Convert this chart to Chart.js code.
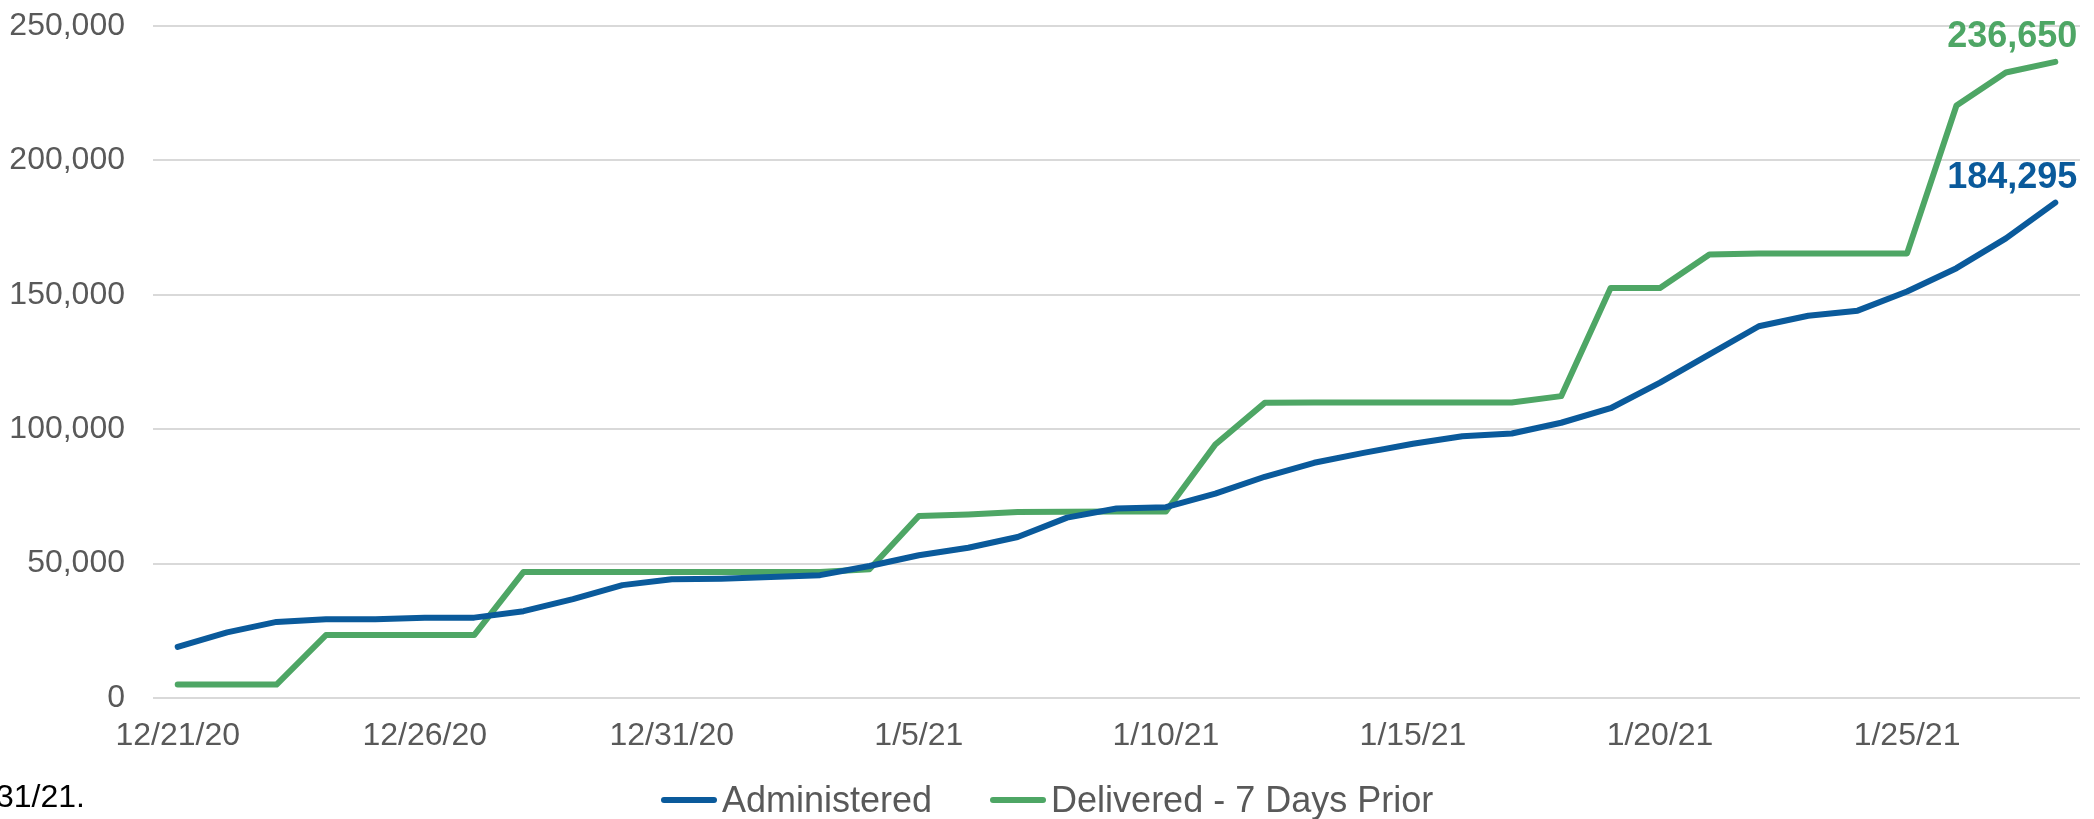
<!DOCTYPE html>
<html>
<head>
<meta charset="utf-8">
<script src="https://cdn.jsdelivr.net/npm/chart.js@4.4.1/dist/chart.umd.min.js"></script>
<style>
    html, body { margin: 0; padding: 0; background: #fff; overflow: hidden; }
    .wrap { position: relative; width: 2094px; height: 819px; overflow: hidden; font-family: "Liberation Sans", Arial, sans-serif; }
    .chart-box { position: absolute; left: 0; top: 0; width: 2094px; height: 819px; }
    .note { position: absolute; left: -4px; top: 780px; font-size: 32px; line-height: 32px; color: #000; }
    .legend { position: absolute; left: 661px; top: 782px; height: 36px; display: flex; align-items: center; font-size: 36px; line-height: 36px; color: #595959; white-space: nowrap; }
    .legend-item { display: flex; align-items: center; margin-right: 58px; }
    .legend-line { width: 56px; height: 6px; border-radius: 3px; margin-right: 5px; }
</style>
</head>
<body>
<div class="wrap">
    <div class="chart-box"><canvas id="chart"></canvas></div>
    <div class="legend" id="legend"></div>
    <div class="note">31/21.</div>
</div>
<script>
// Dates (one per day)
const dates = [
    '12/21/20', '12/22/20', '12/23/20', '12/24/20', '12/25/20', '12/26/20', '12/27/20', '12/28/20',
    '12/29/20', '12/30/20', '12/31/20', '1/1/21', '1/2/21', '1/3/21', '1/4/21', '1/5/21',
    '1/6/21', '1/7/21', '1/8/21', '1/9/21', '1/10/21', '1/11/21', '1/12/21', '1/13/21',
    '1/14/21', '1/15/21', '1/16/21', '1/17/21', '1/18/21', '1/19/21', '1/20/21', '1/21/21',
    '1/22/21', '1/23/21', '1/24/21', '1/25/21', '1/26/21', '1/27/21', '1/28/21'
];

const administered = [
    19000, 24400, 28300, 29300, 29300, 29900, 29900, 32300,
    36800, 42000, 44200, 44400, 45000, 45700, 49100, 53100,
    55900, 59900, 67100, 70500, 71000, 76000, 82300, 87500,
    91200, 94600, 97400, 98400, 102400, 107800, 117300, 127800,
    138300, 142200, 144100, 151200, 159900, 171000, 184295
];

const delivered = [
    5000, 5000, 5000, 23400, 23400, 23400, 23400, 46900,
    46900, 46900, 46900, 46900, 46900, 46900, 47900, 67700,
    68300, 69200, 69300, 69400, 69400, 94300, 109800, 109900,
    109900, 109900, 109900, 109900, 112300, 152500, 152500, 165000,
    165400, 165400, 165400, 165400, 220400, 232700, 236650
];

const yTicks = [0, 50000, 100000, 150000, 200000, 250000];

const BLUE = '#0A5A9B';
const GREEN = '#4EA665';
const FONT = '"Liberation Sans", Arial, sans-serif';

// Label the last point of each line with its value
const endLabels = {
    id: 'endLabels',
    afterDatasetsDraw(chart) {
        const ctx = chart.ctx;
        ctx.save();
        ctx.font = 'bold 36px ' + FONT;
        ctx.textAlign = 'right';
        ctx.textBaseline = 'alphabetic';
        chart.data.datasets.forEach((ds, i) => {
            const pts = chart.getDatasetMeta(i).data;
            const last = pts[pts.length - 1];
            const val = ds.data[ds.data.length - 1];
            ctx.fillStyle = ds.borderColor;
            ctx.fillText(val.toLocaleString('en-US'), last.x + 22, last.y - 15);
        });
        ctx.restore();
    }
};

const chart = new Chart(document.getElementById('chart'), {
    type: 'line',
    data: {
        labels: dates,
        datasets: [
            {
                label: 'Administered',
                data: administered,
                borderColor: BLUE,
                backgroundColor: BLUE,
                borderWidth: 6,
                borderCapStyle: 'round',
                borderJoinStyle: 'round',
                pointRadius: 0,
                tension: 0
            },
            {
                label: 'Delivered - 7 Days Prior',
                data: delivered,
                borderColor: GREEN,
                backgroundColor: GREEN,
                borderWidth: 6,
                borderCapStyle: 'round',
                borderJoinStyle: 'round',
                pointRadius: 0,
                tension: 0
            }
        ]
    },
    options: {
        responsive: true,
        maintainAspectRatio: false,
        animation: false,
        layout: { padding: { top: 26, right: 14, left: 0, bottom: 61 } },
        plugins: {
            tooltip: { enabled: false },
            legend: { display: false }
        },
        scales: {
            x: {
                offset: true,
                grid: { display: false, drawTicks: false },
                border: { display: false },
                afterFit: (scale) => { scale.height = 60; },
                ticks: {
                    autoSkip: false,
                    maxRotation: 0,
                    minRotation: 0,
                    padding: 19,
                    color: '#595959',
                    font: { family: FONT, size: 32 },
                    callback: (v, i) => (i % 5 === 0 ? dates[i] : '')
                }
            },
            y: {
                min: yTicks[0],
                max: yTicks[yTicks.length - 1],
                afterFit: (scale) => {
                    scale.width = 153;
                    scale.paddingTop = 0;
                    scale.paddingBottom = 0;
                },
                afterBuildTicks: (scale) => { scale.ticks = yTicks.map(v => ({ value: v })); },
                grid: { color: '#d9d9d9', lineWidth: 2, drawTicks: false },
                border: { display: false },
                ticks: {
                    padding: 28,
                    color: '#595959',
                    font: { family: FONT, size: 32 },
                    callback: (v) => v.toLocaleString('en-US')
                }
            }
        }
    },
    plugins: [endLabels]
});

// Legend built from the chart's datasets
const legendEl = document.getElementById('legend');
chart.data.datasets.forEach((ds) => {
    const item = document.createElement('div');
    item.className = 'legend-item';
    const line = document.createElement('span');
    line.className = 'legend-line';
    line.style.background = ds.borderColor;
    const text = document.createElement('span');
    text.textContent = ds.label;
    item.appendChild(line);
    item.appendChild(text);
    legendEl.appendChild(item);
});
</script>
</body>
</html>
